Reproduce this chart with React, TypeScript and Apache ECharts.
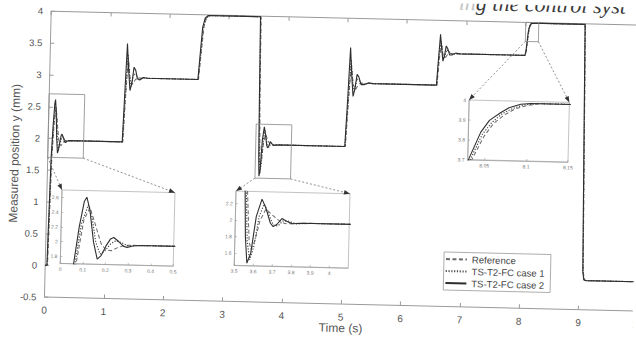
import React, { useEffect, useRef } from "react";
import * as echarts from "echarts";

// ---- data (time s, measured position mm) ----
const case2Data: number[][] = [
  [0, 0], [0.03, 0], [0.059, 1.7], [0.08, 2.2], [0.1, 2.55], [0.111, 2.61], [0.125, 2.45], [0.145, 2.0], [0.163, 1.77], [0.18, 1.82], [0.2, 1.95], [0.22, 2.05], [0.234, 2.07], [0.255, 2.02], [0.28, 1.95], [0.294, 1.94], [0.32, 1.96], [0.35, 1.97],
  [1.25, 1.97], [1.27, 2.6], [1.3, 3.52], [1.33, 3.1], [1.36, 2.78], [1.39, 2.9], [1.42, 3.15], [1.45, 3.1], [1.48, 2.97], [1.52, 2.95], [1.58, 2.99], [1.65, 2.98],
  [2.5, 2.98], [2.53, 3.4], [2.56, 3.8], [2.6, 3.95], [2.65, 3.99],
  [3.53, 3.99], [3.545, 2.6], [3.555, 1.8], [3.566, 1.48], [3.585, 1.6], [3.61, 2.05], [3.638, 2.26], [3.66, 2.15], [3.685, 1.97], [3.7, 1.93], [3.72, 1.96], [3.745, 2.03], [3.77, 2.0], [3.8, 1.97], [3.85, 1.98],
  [5.0, 1.98], [5.03, 2.7], [5.06, 3.54], [5.09, 3.1], [5.12, 2.77], [5.15, 2.9], [5.18, 3.12], [5.21, 3.08], [5.25, 2.96], [5.3, 2.96], [5.38, 2.99], [5.45, 2.98],
  [6.52, 2.98], [6.545, 3.4], [6.57, 3.78], [6.595, 3.55], [6.62, 3.36], [6.645, 3.45], [6.67, 3.6], [6.7, 3.55], [6.73, 3.46], [6.77, 3.46], [6.83, 3.49], [6.9, 3.48],
  [8.0, 3.48], [8.015, 3.55], [8.031, 3.7], [8.045, 3.84], [8.055, 3.9], [8.068, 3.94], [8.078, 3.966], [8.092, 3.985], [8.104, 3.99],
  [9.0, 3.99], [9.03, 2.0], [9.06, 0.1], [9.08, -0.03], [9.12, -0.04], [10, -0.04],
];

const case1Data: number[][] = [
  [0, 0], [0.035, 0], [0.065, 1.7], [0.09, 2.25], [0.118, 2.5], [0.135, 2.35], [0.155, 2.0], [0.175, 1.84], [0.195, 1.88], [0.22, 1.98], [0.245, 2.03], [0.27, 2.0], [0.3, 1.96], [0.35, 1.97],
  [1.255, 1.97], [1.28, 2.6], [1.315, 3.35], [1.35, 3.0], [1.38, 2.85], [1.42, 3.05], [1.46, 3.02], [1.52, 2.97], [1.6, 2.98],
  [2.505, 2.98], [2.54, 3.4], [2.57, 3.78], [2.61, 3.94], [2.67, 3.99],
  [3.535, 3.99], [3.55, 2.6], [3.565, 1.75], [3.58, 1.52], [3.6, 1.68], [3.625, 2.05], [3.65, 2.2], [3.675, 2.08], [3.7, 1.95], [3.725, 1.94], [3.75, 2.0], [3.78, 2.0], [3.82, 1.97], [3.9, 1.98],
  [5.005, 1.98], [5.04, 2.7], [5.075, 3.35], [5.11, 2.98], [5.14, 2.85], [5.18, 3.05], [5.22, 3.02], [5.28, 2.97], [5.36, 2.98],
  [6.525, 2.98], [6.55, 3.4], [6.58, 3.68], [6.61, 3.48], [6.64, 3.4], [6.68, 3.54], [6.72, 3.51], [6.78, 3.47], [6.85, 3.48],
  [8.002, 3.48], [8.018, 3.56], [8.033, 3.7], [8.047, 3.83], [8.058, 3.89], [8.07, 3.935], [8.082, 3.962], [8.096, 3.982], [8.11, 3.99],
  [9.003, 3.99], [9.033, 2.0], [9.063, 0.1], [9.085, -0.03], [9.12, -0.04], [10, -0.04],
];

const refData: number[][] = [
  [0, 0], [0.04, 0], [0.07, 1.7], [0.1, 2.3], [0.126, 2.47], [0.15, 2.25], [0.179, 1.98], [0.2, 1.9], [0.224, 1.89], [0.25, 1.93], [0.276, 1.96], [0.3, 1.97],
  [1.26, 1.97], [1.285, 2.6], [1.32, 3.3], [1.36, 2.95], [1.4, 2.88], [1.45, 2.96], [1.52, 2.98],
  [2.51, 2.98], [2.545, 3.4], [2.58, 3.8], [2.62, 3.95], [2.68, 3.99],
  [3.54, 3.99], [3.555, 2.6], [3.575, 1.75], [3.585, 1.65], [3.605, 1.75], [3.63, 2.0], [3.66, 2.14], [3.68, 2.1], [3.72, 2.02], [3.76, 1.97], [3.8, 1.97], [3.85, 1.98],
  [5.01, 1.98], [5.045, 2.7], [5.08, 3.28], [5.12, 2.95], [5.16, 2.88], [5.21, 2.97], [5.28, 2.98],
  [6.53, 2.98], [6.56, 3.4], [6.59, 3.65], [6.62, 3.45], [6.66, 3.42], [6.71, 3.48], [6.78, 3.48],
  [8.004, 3.48], [8.02, 3.56], [8.035, 3.7], [8.049, 3.82], [8.06, 3.885], [8.073, 3.93], [8.085, 3.96], [8.1, 3.98], [8.115, 3.99],
  [9.006, 3.99], [9.036, 2.0], [9.066, 0.1], [9.09, -0.03], [9.12, -0.04], [10, -0.04],
];

const seriesNames = ["Reference", "TS-T2-FC case 1", "TS-T2-FC case 2"];

// main axes
const mainX = [0, 10];
const mainY = [-0.5, 4];

// inset ranges and tick labels
const inset1X = [0, 0.5];
const inset1Y = [1.7, 2.7];
const inset1YTicks = [1.8, 2, 2.2, 2.4, 2.6];
const inset2X = [3.5, 4.1];
const inset2Y = [1.45, 2.35];
const inset2XTicks = [3.5, 3.6, 3.7, 3.8, 3.9, 4];
const inset2YTicks = [1.6, 1.8, 2, 2.2];
const inset3X = [8.03, 8.15];
const inset3Y = [3.7, 4];
const inset3XTicks = [8.05, 8.1, 8.15];
const inset3YTicks = [3.7, 3.8, 3.9, 4];

// zoom rectangles drawn on the main plot
const zoomBox1 = { x: [0, 0.6], y: [1.7, 2.7] };
const zoomBox2 = { x: [3.5, 4.1], y: [1.45, 2.3] };
const zoomBox3 = { x: [8.0, 8.22], y: [3.7, 4.0] };

const FONT = "Liberation Sans";
const axisGray = "#9a9a9a";
const labelGray = "#555";

const lineStyles: any[] = [
  { color: "#6a6a6a", type: [4, 2.5], width: 1 },
  { color: "#4a4a4a", type: [1.2, 1.6], width: 1.2 },
  { color: "#2e2e2e", type: "solid", width: 1.1 },
];
const seriesData = [refData, case1Data, case2Data];

function insetAxis(gridIndex: number, range: number[], ticks: number[] | null, interval?: number) {
  const ax: any = {
    gridIndex,
    type: "value",
    min: range[0],
    max: range[1],
    axisLine: { show: true, onZero: false, lineStyle: { color: "#999", width: 0.7 } },
    axisTick: { show: true, inside: true, length: 2, lineStyle: { color: "#999", width: 0.6 } },
    axisLabel: { show: true, fontSize: 5, color: "#777", margin: 3 },
    splitLine: { show: false },
  };
  if (interval) ax.interval = interval;
  if (ticks) {
    ax.axisLabel.customValues = ticks;
    ax.axisTick.customValues = ticks;
  }
  return ax;
}

export default function App() {
  const ref = useRef<HTMLDivElement>(null);

  useEffect(() => {
    const el = ref.current;
    if (!el) return;
    const chart = echarts.init(el, null, { renderer: "svg" });

    const xAxisIdx = [0, 2, 3, 4];
    const series: any[] = [];
    for (let g = 0; g < 4; g++) {
      for (let s = 0; s < 3; s++) {
        series.push({
          type: "line",
          name: seriesNames[s],
          xAxisIndex: xAxisIdx[g],
          yAxisIndex: g,
          data: seriesData[s],
          symbol: "none",
          smooth: false,
          clip: true,
          lineStyle: lineStyles[s],
          itemStyle: { color: lineStyles[s].color },
          z: 3 + s,
        });
      }
    }

    const gridBase = { outerBoundsMode: "none", containLabel: false };
    const insetGrid = { ...gridBase, show: true, borderColor: "#aaa", borderWidth: 0.7, backgroundColor: "#fff" };

    const option: any = {
      animation: false,
      backgroundColor: "#fff",
      textStyle: { fontFamily: FONT },
      grid: [
        { ...gridBase, left: 47.4, top: 17.5, width: 593.5, height: 286 },
        { ...insetGrid, left: 62.5, top: 196, width: 113, height: 73.5 },
        { ...insetGrid, left: 236.5, top: 193, width: 114, height: 74.3 },
        { ...insetGrid, left: 467.3, top: 96.5, width: 100.4, height: 59.6 },
      ],
      xAxis: [
        {
          gridIndex: 0,
          type: "value",
          min: mainX[0],
          max: mainX[1],
          interval: 1,
          position: "bottom",
          axisLine: { show: true, onZero: false, lineStyle: { color: axisGray, width: 1 } },
          axisTick: { show: true, inside: true, length: 4, lineStyle: { color: axisGray } },
          axisLabel: { fontSize: 10, color: labelGray, margin: 8, fontFamily: FONT },
          splitLine: { show: false },
          name: "Time (s)",
          nameLocation: "middle",
          nameGap: 18,
          nameMoveOverlap: false,
          nameTextStyle: { fontSize: 12, color: labelGray, fontFamily: FONT },
        },
        {
          gridIndex: 0,
          type: "value",
          min: mainX[0],
          max: mainX[1],
          interval: 1,
          position: "top",
          axisLine: { show: true, onZero: false, lineStyle: { color: axisGray, width: 1 } },
          axisTick: { show: true, inside: true, length: 4, lineStyle: { color: axisGray } },
          axisLabel: { show: false },
          splitLine: { show: false },
        },
        insetAxis(1, inset1X, null, 0.1),
        insetAxis(2, inset2X, inset2XTicks),
        insetAxis(3, inset3X, inset3XTicks),
      ],
      yAxis: [
        {
          gridIndex: 0,
          type: "value",
          min: mainY[0],
          max: mainY[1],
          interval: 0.5,
          axisLine: { show: true, onZero: false, lineStyle: { color: axisGray, width: 1 } },
          axisTick: { show: true, inside: true, length: 4, lineStyle: { color: axisGray } },
          axisLabel: { fontSize: 9.5, color: labelGray, margin: 8, fontFamily: FONT },
          splitLine: { show: false },
          name: "Measured position y (mm)",
          nameLocation: "middle",
          nameRotate: 90,
          nameGap: 27,
          nameMoveOverlap: false,
          nameTextStyle: { fontSize: 12, color: labelGray, fontFamily: FONT },
        },
        insetAxis(1, inset1Y, inset1YTicks),
        insetAxis(2, inset2Y, inset2YTicks),
        insetAxis(3, inset3Y, inset3YTicks),
      ],
      legend: {
        data: seriesNames,
        orient: "vertical",
        left: 446,
        top: 249,
        itemGap: 2,
        itemWidth: 21,
        itemHeight: 10,
        itemTextGap: 2,
        padding: [2, 6, 2, 1],
        borderColor: "#9a9a9a",
        borderWidth: 0.8,
        backgroundColor: "#fff",
        selectedMode: false,
        itemStyle: { opacity: 0 },
        textStyle: { fontSize: 9.5, color: "#444", fontFamily: FONT },
      },
      series,
    };

    chart.setOption(option);

    const toPx = (xi: number, yi: number, pt: number[]) =>
      chart.convertToPixel({ xAxisIndex: xi, yAxisIndex: yi } as any, pt) as unknown as number[];

    const annot: any[] = [];
    const insets = [
      { xi: 2, yi: 1, box: zoomBox1, xr: inset1X, yr: inset1Y },
      { xi: 3, yi: 2, box: zoomBox2, xr: inset2X, yr: inset2Y },
      { xi: 4, yi: 3, box: zoomBox3, xr: inset3X, yr: inset3Y },
    ];
    insets.forEach((ins) => {
      const bTL = toPx(0, 0, [ins.box.x[0], ins.box.y[1]]);
      const bBR = toPx(0, 0, [ins.box.x[1], ins.box.y[0]]);
      annot.push({
        type: "rect",
        shape: { x: bTL[0], y: bTL[1], width: bBR[0] - bTL[0], height: bBR[1] - bTL[1] },
        style: { fill: "none", stroke: "#8a8a8a", lineWidth: 0.8 },
        z: 50,
      });
      const bBL = [bTL[0], bBR[1]];
      const iTL = toPx(ins.xi, ins.yi, [ins.xr[0], ins.yr[1]]);
      const iTR = toPx(ins.xi, ins.yi, [ins.xr[1], ins.yr[1]]);
      [
        [bBL, iTL],
        [bBR, iTR],
      ].forEach(([s, e]) => {
        annot.push({
          type: "line",
          shape: { x1: s[0], y1: s[1], x2: e[0], y2: e[1] },
          style: { stroke: "#777", lineWidth: 0.8, lineDash: [2, 2] },
          z: 50,
        });
        const dx = e[0] - s[0];
        const dy = e[1] - s[1];
        const L = Math.hypot(dx, dy) || 1;
        const ux = dx / L;
        const uy = dy / L;
        const bx = e[0] - ux * 6;
        const by = e[1] - uy * 6;
        annot.push({
          type: "polygon",
          shape: {
            points: [
              [e[0], e[1]],
              [bx - uy * 2.3, by + ux * 2.3],
              [bx + uy * 2.3, by - ux * 2.3],
            ],
          },
          style: { fill: "#333" },
          z: 51,
        });
      });
    });

    // fragment of the page header visible at the top of the scan
    annot.push({
      type: "text",
      x: 472,
      y: -1,
      style: {
        text: "in",
        fill: "#c4c4c4",
        font: 'italic 22px "Liberation Serif"',
        align: "right",
        verticalAlign: "middle",
      },
      z: 60,
    });
    annot.push({
      type: "text",
      x: 472,
      y: -1,
      style: {
        text: "g the control syst",
        fill: "#3a3a3a",
        font: 'italic 22px "Liberation Serif"',
        align: "left",
        verticalAlign: "middle",
      },
      z: 60,
    });

    chart.setOption({ graphic: { elements: annot } });

    return () => chart.dispose();
  }, []);

  return (
    <div style={{ position: "fixed", left: 0, top: 0, width: 636, height: 342, overflow: "hidden", background: "#fff" }}>
      <div
        ref={ref}
        style={{
          position: "absolute",
          left: 0,
          top: 0,
          width: 636,
          height: 342,
          transform: "rotate(1.35deg)",
          transformOrigin: "50% 50%",
        }}
      />
    </div>
  );
}
